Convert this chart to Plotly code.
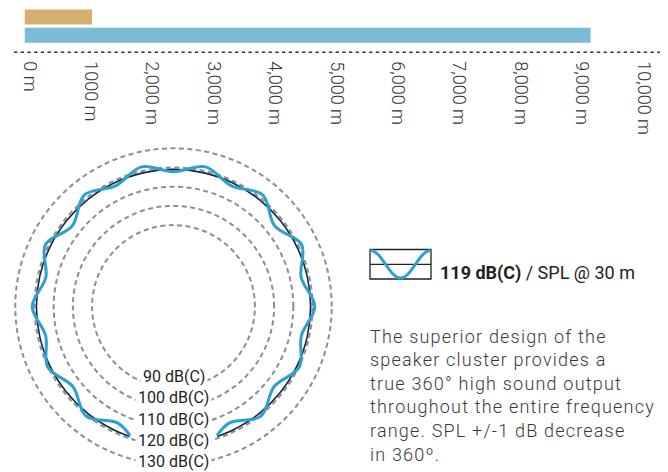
import plotly.graph_objects as go

W, H = 668, 472
OFF = 8  # the page body adds an 8px margin around the figure

# ---------------- data ----------------
RANGE_NAMES = ["Range A", "Range B"]
RANGE_METERS = [1100, 9220]
RANGE_COLORS = ["#D5AF6F", "#7BBBD4"]

DIST_TICKS = [0, 1000, 2000, 3000, 4000, 5000, 6000, 7000, 8000, 9000, 10000]
DIST_TICK_LABELS = ["0 m", "1000 m", "2,000 m", "3,000 m", "4,000 m", "5,000 m",
                    "6,000 m", "7,000 m", "8,000 m", "9,000 m", "10,000 m"]

DB_LEVELS = [90, 100, 110, 120, 130]
DB_LABELS = ["90 dB(C)", "100 dB(C)", "110 dB(C)", "120 dB(C)", "130 dB(C)"]

SPL_ANGLES = [-161.4, -154.3, -141.4, -128.6, -115.7, -102.9, -90.0, -77.1, -64.3,
              -51.4, -38.6, -25.7, -12.9, 0.0, 12.9, 25.7, 38.6, 51.4, 64.3, 77.1,
              90.0, 102.9, 115.7, 128.6, 141.4, 154.3, 161.4]
SPL_VALUES = [118.5, 114.9, 120.6, 114.6, 120.3, 115.9, 121.2, 115.8, 121.7,
              115.0, 122.0, 117.3, 122.2, 117.8, 122.2, 117.3, 122.0, 115.0, 121.7, 115.8,
              121.2, 115.9, 120.3, 114.6, 120.6, 114.9, 118.5]
NOMINAL_SPL = 119

LEGEND_BOLD = "119 dB(C)"
LEGEND_REST = " / SPL @ 30 m"
PARAGRAPH = ["The superior design of the",
             "speaker cluster provides a",
             "true 360° high sound output",
             "throughout the entire frequency",
             "range. SPL +/-1 dB decrease",
             "in 360º."]


def px(x):
    return (x - OFF) / W


def py(y):
    return 1 - (y - OFF) / H


FONT = "Roboto, 'Noto Sans', sans-serif"

fig = go.Figure()

# ---------------- top bar chart ----------------
fig.add_trace(go.Bar(
    y=RANGE_NAMES, x=RANGE_METERS, orientation="h",
    marker=dict(color=RANGE_COLORS, line=dict(width=0)),
    xaxis="x", yaxis="y", showlegend=False, hoverinfo="x",
))

# ---------------- polar chart ----------------
fig.add_trace(go.Scatterpolar(
    theta=SPL_ANGLES, r=[NOMINAL_SPL] * len(SPL_ANGLES),
    mode="lines", line=dict(color="#10283A", width=1.6, shape="spline"),
    showlegend=False, subplot="polar",
))
fig.add_trace(go.Scatterpolar(
    theta=SPL_ANGLES, r=SPL_VALUES,
    mode="lines", line=dict(color="#2E9FCF", width=3, shape="spline", smoothing=1),
    showlegend=False, subplot="polar",
))

cx, cy = 173.5, 306.5
r_lo, r_hi = 47.6, 130.6
pix_per_db = 1.92
R = (r_hi - r_lo) * pix_per_db

fig.update_layout(
    template="none",
    width=W, height=H, autosize=False,
    margin=dict(l=0, r=0, t=0, b=0, pad=0),
    paper_bgcolor="white", plot_bgcolor="white",
    font=dict(family=FONT, color="#333333"),
    bargap=0.17,
    xaxis=dict(
        domain=[px(24.5), px(638.5)], range=[0, 10000],
        tickmode="array", tickvals=DIST_TICKS, ticktext=DIST_TICK_LABELS,
        tickangle=90, showgrid=False, zeroline=False, showline=False, ticks="",
        tickfont=dict(family=FONT, size=18, color="#333333", weight=300),
        ticklabelstandoff=16, ticklabelshift=5,
        anchor="y", fixedrange=True, automargin=False,
    ),
    yaxis=dict(
        domain=[py(44.3), min(py(6.3), 1)], autorange="reversed",
        showticklabels=False, showgrid=False, zeroline=False, showline=False,
        ticks="", fixedrange=True, automargin=False,
    ),
    polar=dict(
        domain=dict(x=[px(cx - R), px(cx + R)], y=[py(cy + R), py(cy - R)]),
        bgcolor="white",
        radialaxis=dict(
            range=[r_lo, r_hi], tickmode="array", tickvals=DB_LEVELS,
            showticklabels=False, ticks="", showline=False,
            showgrid=True, gridcolor="#8A8E9C", gridwidth=1.5, griddash="5px,3.5px",
        ),
        angularaxis=dict(
            rotation=90, direction="clockwise",
            showgrid=False, showline=False, showticklabels=False, ticks="",
        ),
    ),
)

shapes = []
# dotted baseline under the bars
shapes.append(dict(type="line", xref="paper", yref="paper",
                   x0=px(14), x1=px(676), y0=py(52.3), y1=py(52.3),
                   line=dict(color="#333333", width=1.4, dash="3.3px,3.4px")))

# legend icon
shapes.append(dict(type="rect", xref="paper", yref="paper",
                   x0=px(370), x1=px(431), y0=py(279), y1=py(249.5),
                   line=dict(color="#222222", width=1.3)))
shapes.append(dict(type="line", xref="paper", yref="paper",
                   x0=px(370), x1=px(431), y0=py(264.3), y1=py(264.3),
                   line=dict(color="#222222", width=1.3)))


def pt(x, y):
    return f"{px(x):.5f},{py(y):.5f}"


wave = ("M " + pt(370.5, 250.5)
        + " C " + pt(381.5, 250.5) + " " + pt(389.5, 278) + " " + pt(400.5, 278)
        + " C " + pt(411.5, 278) + " " + pt(419.5, 250.5) + " " + pt(430.5, 250.5))
shapes.append(dict(type="path", xref="paper", yref="paper", path=wave,
                   line=dict(color="#2E9FCF", width=3)))

annotations = []
# dB level labels at the bottom of the rings
label_y0, label_step = 376.7, 21.25
for i, lab in enumerate(DB_LABELS):
    annotations.append(dict(
        x=px(cx), y=py(label_y0 + i * label_step), xref="paper", yref="paper",
        text=lab, showarrow=False, xanchor="center", yanchor="middle",
        font=dict(family=FONT, size=16, color="#1E1E1E"),
        bgcolor="white", borderpad=2,
    ))

# legend text
annotations.append(dict(
    x=px(438), y=py(272.5), xref="paper", yref="paper",
    text=f"<b>{LEGEND_BOLD}</b>{LEGEND_REST}", showarrow=False,
    xanchor="left", yanchor="middle",
    font=dict(family=FONT, size=18, color="#222222"),
))

# paragraph
para_y0, para_step = 336.0, 23.65
for i, line in enumerate(PARAGRAPH):
    annotations.append(dict(
        x=px(368), y=py(para_y0 + i * para_step), xref="paper", yref="paper",
        text=f'<span style="letter-spacing:1.2px">{line}</span>',
        showarrow=False, xanchor="left", yanchor="middle",
        font=dict(family=FONT, size=18, color="#3A3A3A", weight=300),
    ))

fig.update_layout(shapes=shapes, annotations=annotations)

fig.write_html("out.html")
